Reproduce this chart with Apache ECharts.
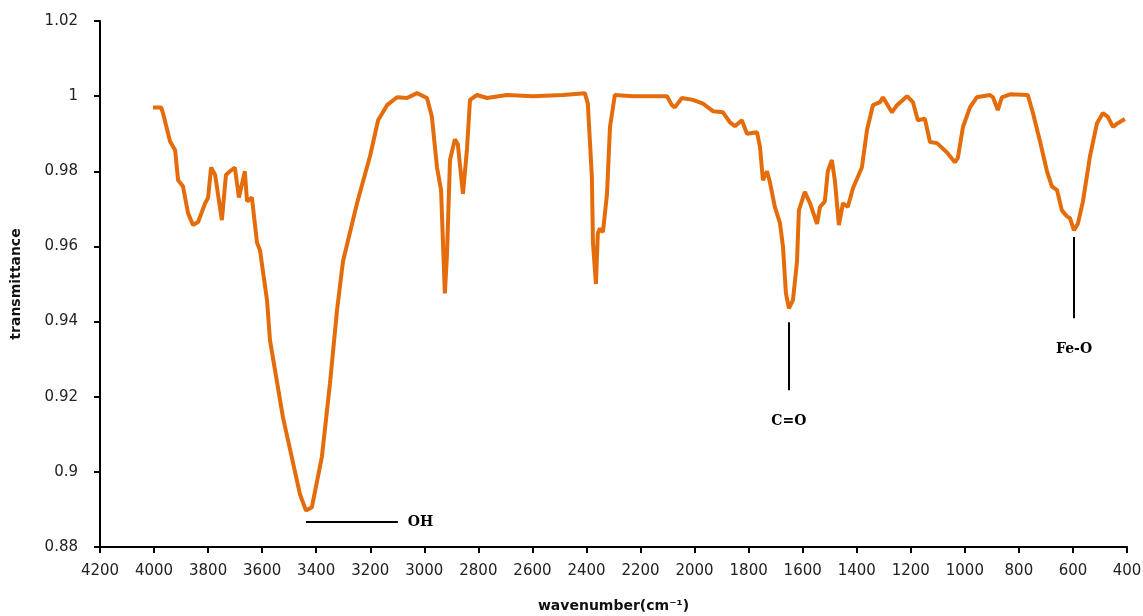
<!DOCTYPE html>
<html>
<head>
<meta charset="utf-8">
<script src="https://cdn.jsdelivr.net/npm/echarts@6/dist/echarts.min.js"></script>
<style>
  html, body { margin: 0; padding: 0; background: #fff; }
  #chart { width: 1143px; height: 616px; }
</style>
</head>
<body>
<div id="chart"></div>
<script>
// FTIR spectrum
var wavenumber = [
  4004, 3974, 3967, 3941, 3922, 3911, 3893, 3874, 3856, 3837, 3811, 3800, 3789, 3774, 3749, 3734,
  3719, 3701, 3686, 3664, 3656, 3638, 3619, 3608, 3582, 3571, 3523, 3460, 3438, 3416, 3379, 3349,
  3323, 3301, 3249, 3201, 3171, 3138, 3101, 3064, 3027, 2990, 2972, 2953, 2938, 2931, 2924, 2916,
  2905, 2887, 2876, 2857, 2842, 2831, 2805, 2768, 2694, 2598, 2487, 2406, 2395, 2380, 2376, 2365,
  2358, 2350, 2339, 2324, 2313, 2295, 2228, 2102, 2084, 2073, 2047, 2006, 1969, 1932, 1895, 1869,
  1851, 1825, 1806, 1769, 1758, 1747, 1732, 1721, 1703, 1684, 1673, 1662, 1651, 1636, 1621, 1614,
  1592, 1573, 1547, 1536, 1518, 1507, 1492, 1481, 1466, 1451, 1433, 1414, 1381, 1362, 1340, 1314,
  1303, 1270, 1251, 1214, 1192, 1174, 1148, 1129, 1103, 1066, 1037, 1026, 1007, 981, 956, 907,
  896, 878, 863, 833, 767, 748, 722, 696, 678, 659, 641, 622, 611, 596, 582, 563,
  537, 511, 489, 471, 452, 434, 408
];
var transmittance = [
  0.997, 0.997, 0.9955, 0.988, 0.9856, 0.9776, 0.976, 0.9688, 0.9657, 0.9665, 0.9715, 0.973, 0.981, 0.979, 0.967, 0.979,
  0.980, 0.981, 0.973, 0.980, 0.972, 0.973, 0.961, 0.959, 0.9457, 0.935, 0.9145, 0.894, 0.8897, 0.8906, 0.904, 0.9236,
  0.943, 0.956, 0.9715, 0.984, 0.9936, 0.9976, 0.9997, 0.9995, 1.0008, 0.9995, 0.9945, 0.981, 0.975, 0.961, 0.9475, 0.958,
  0.983, 0.9885, 0.9872, 0.974, 0.986, 0.999, 1.0003, 0.9995, 1.0003, 1.000, 1.0003, 1.0008, 0.998, 0.9785, 0.961, 0.950,
  0.9635, 0.9648, 0.9638, 0.974, 0.9918, 1.0003, 1.000, 1.000, 0.9976, 0.997, 0.9995, 0.999, 0.998, 0.996, 0.9957, 0.993,
  0.992, 0.9936, 0.990, 0.9904, 0.9865, 0.9776, 0.980, 0.977, 0.9705, 0.9662, 0.960, 0.9475, 0.9435, 0.9457, 0.956, 0.9696,
  0.9745, 0.9715, 0.966, 0.9705, 0.972, 0.980, 0.983, 0.9776, 0.9657, 0.9715, 0.9705, 0.9755, 0.981, 0.991, 0.9976, 0.9984,
  0.9997, 0.9957, 0.9976, 1.000, 0.9984, 0.9936, 0.994, 0.9878, 0.9875, 0.985, 0.9824, 0.9835, 0.9918, 0.997, 0.9997, 1.0003,
  0.9997, 0.9963, 0.9997, 1.0005, 1.0003, 0.9955, 0.988, 0.980, 0.976, 0.975, 0.9696, 0.968, 0.9675, 0.9643, 0.966, 0.972,
  0.984, 0.9928, 0.9955, 0.9945, 0.9918, 0.9928, 0.9939
];

// annotation lines: [x1, y1, x2, y2] in data units, and their labels
var annotationNames = ['OH', 'C=O', 'Fe-O'];
var annotationLines = [
  [3438, 0.8866, 3098, 0.8866],
  [1651, 0.9398, 1651, 0.9217],
  [596, 0.9625, 596, 0.9409]
];
var labelGaps = [10, 24, 24];

var points = [];
for (var i = 0; i < wavenumber.length; i++) {
  points.push([wavenumber[i], transmittance[i]]);
}

var markData = [];
for (var j = 0; j < annotationLines.length; j++) {
  var a = annotationLines[j];
  markData.push([
    { coord: [a[0], a[1]], name: annotationNames[j], label: { distance: labelGaps[j] } },
    { coord: [a[2], a[3]] }
  ]);
}

var myChart = echarts.init(document.getElementById('chart'));
var option = {
  backgroundColor: '#ffffff',
  animation: false,
  grid: { left: 100, right: 16, top: 21, bottom: 69, outerBoundsMode: 'none' },
  xAxis: {
    type: 'value',
    inverse: true,
    min: 400,
    max: 4200,
    interval: 200,
    name: 'wavenumber(cm\u207B\u00B9)',
    nameLocation: 'middle',
    nameGap: 52,
    nameTextStyle: { fontFamily: 'DejaVu Sans', fontSize: 14, fontWeight: 'bold', color: '#111' },
    axisLine: { lineStyle: { color: '#000', width: 2 } },
    axisTick: { inside: false, length: 6, lineStyle: { color: '#000', width: 2 } },
    axisLabel: {
      margin: 17, fontFamily: 'DejaVu Sans', fontSize: 15, color: '#222',
      formatter: function (v) { return String(v); }
    },
    splitLine: { show: false }
  },
  yAxis: {
    type: 'value',
    min: 0.88,
    max: 1.02,
    interval: 0.02,
    name: 'transmittance',
    nameLocation: 'middle',
    nameGap: 77,
    nameTextStyle: { fontFamily: 'DejaVu Sans', fontSize: 14, fontWeight: 'bold', color: '#111' },
    axisLine: { show: true, lineStyle: { color: '#000', width: 2 } },
    axisTick: { show: true, inside: false, length: 6, lineStyle: { color: '#000', width: 2 } },
    axisLabel: {
      margin: 22, fontFamily: 'DejaVu Sans', fontSize: 15, color: '#222',
      formatter: function (v) { return String(parseFloat(v.toFixed(2))); }
    },
    splitLine: { show: false }
  },
  series: [{
    type: 'line',
    data: points,
    showSymbol: false,
    smooth: false,
    lineStyle: { color: '#E46C0A', width: 4 },
    itemStyle: { color: '#E46C0A' },
    markLine: {
      silent: true,
      symbol: 'none',
      animation: false,
      lineStyle: { color: '#000', width: 2, type: 'solid' },
      label: {
        show: true,
        position: 'end',
        formatter: '{b}',
        fontFamily: 'DejaVu Serif',
        fontWeight: 'bold',
        fontSize: 14,
        color: '#000'
      },
      data: markData
    }
  }]
};
myChart.setOption(option);
</script>
</body>
</html>
